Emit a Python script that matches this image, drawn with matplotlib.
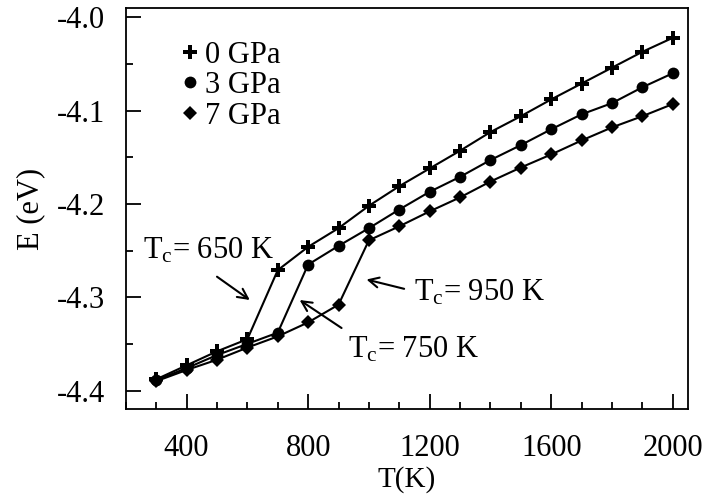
import matplotlib
matplotlib.use("Agg")
import matplotlib.pyplot as plt
from matplotlib.lines import Line2D
from matplotlib.ticker import MultipleLocator, FormatStrFormatter

plt.rcParams['font.family'] = ['Liberation Serif', 'DejaVu Serif']
plt.rcParams['mathtext.fontset'] = 'custom'
plt.rcParams['mathtext.rm'] = 'Liberation Serif'
plt.rcParams['mathtext.it'] = 'Liberation Serif:italic'
plt.rcParams['axes.unicode_minus'] = False

T = [300, 400, 500, 600, 700, 800, 900, 1000, 1100, 1200, 1300, 1400,
     1500, 1600, 1700, 1800, 1900, 2000]
E_0GPa = [-4.388, -4.373, -4.358, -4.345, -4.271, -4.246, -4.226, -4.202,
          -4.181, -4.162, -4.143, -4.123, -4.106, -4.088, -4.071, -4.054,
          -4.037, -4.022]
E_3GPa = [-4.389, -4.376, -4.362, -4.350, -4.338, -4.265, -4.245, -4.226,
          -4.206, -4.187, -4.171, -4.153, -4.137, -4.120, -4.104, -4.092,
          -4.075, -4.060]
E_7GPa = [-4.390, -4.378, -4.367, -4.354, -4.342, -4.327, -4.308, -4.239,
          -4.224, -4.208, -4.193, -4.176, -4.161, -4.147, -4.132, -4.118,
          -4.106, -4.093]
labels = ['0 GPa', '3 GPa', '7 GPa']
x_ticks = [400, 800, 1200, 1600, 2000]

fig = plt.figure(figsize=(7.07, 4.99), dpi=100)
ax = fig.add_axes([0.178, 0.180, 0.795, 0.804])

lw = 1.5
ax.plot(T, E_0GPa, color='black', lw=lw, marker='P', ms=10, mew=0, zorder=3)
ax.plot(T, E_3GPa, color='black', lw=lw, marker='o', ms=8.5, mew=0, zorder=3)
ax.plot(T, E_7GPa, color='black', lw=lw, marker='D', ms=7, mew=0, zorder=3)

ax.set_xlim(200, 2050)
ax.set_ylim(-4.42, -3.99)
ax.set_xticks(x_ticks)
ax.xaxis.set_minor_locator(MultipleLocator(100))
ax.yaxis.set_major_locator(MultipleLocator(0.1))
ax.yaxis.set_minor_locator(MultipleLocator(0.05))
ax.yaxis.set_major_formatter(FormatStrFormatter('%.1f'))
ax.tick_params(which='both', direction='in', top=False, right=False, width=1.3,
               labelsize=22)
ax.tick_params(axis='x', which='both', pad=18)
ax.tick_params(axis='y', which='both', pad=15)
ax.tick_params(which='major', length=11)
ax.tick_params(which='minor', length=5)
for s in ax.spines.values():
    s.set_linewidth(1.3)

ax.set_xlabel('T(K)', fontsize=21, labelpad=2)
ax.set_ylabel('E (eV)', fontsize=22, labelpad=8)

handles = [Line2D([], [], color='black', marker='P', ms=10, mew=0, ls='none'),
           Line2D([], [], color='black', marker='o', ms=8.5, mew=0, ls='none'),
           Line2D([], [], color='black', marker='D', ms=7, mew=0, ls='none')]
ax.legend(handles, labels, loc='upper left', bbox_to_anchor=(0.06, 0.972),
          frameon=False, fontsize=22, handlelength=0.6, handletextpad=0.2,
          labelspacing=0.05, borderpad=0.2)

tsize = 22
akw = dict(arrowstyle='->', color='black', lw=1.5, mutation_scale=18,
           shrinkA=0, shrinkB=0)
ax.annotate('', xy=(608, -4.303), xytext=(500, -4.278), arrowprops=akw)
ax.annotate('', xy=(992, -4.281), xytext=(1116, -4.291), arrowprops=akw)
ax.annotate('', xy=(772, -4.303), xytext=(910, -4.333), arrowprops=akw)
ax.text(257, -4.258, 'T$_\\mathrm{c}$= 650 K', fontsize=tsize, va='baseline')
ax.text(1149, -4.303, 'T$_\\mathrm{c}$= 950 K', fontsize=tsize, va='baseline')
ax.text(930, -4.365, 'T$_\\mathrm{c}$= 750 K', fontsize=tsize, va='baseline')

fig.savefig('out.png', dpi=100)
